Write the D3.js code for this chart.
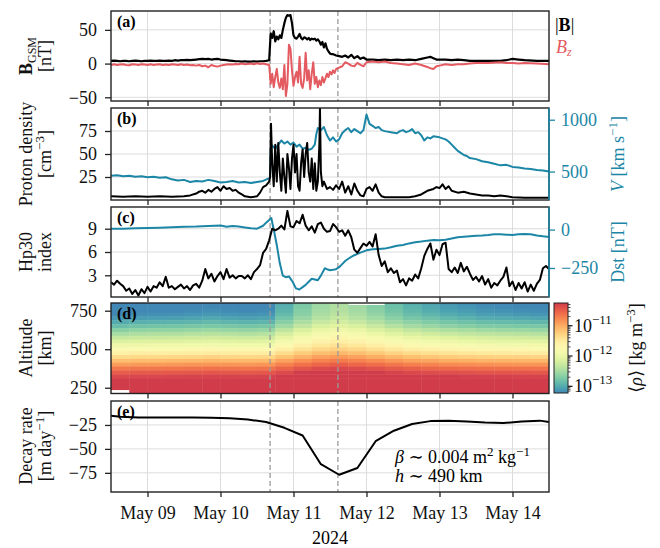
<!DOCTYPE html>
<html>
<head>
<meta charset="utf-8">
<script src="https://cdn.jsdelivr.net/npm/d3@7"></script>
<style>
  body { margin: 0; background: #fff; }
  svg text { font-family: "Liberation Serif", "DejaVu Serif", serif; }
</style>
</head>
<body>
<svg id="chart" width="660" height="548"></svg>
<script>
// hours counted from 2024-05-08 12:00 UT
var eventHours = [52.3, 74.6];

// (a) IMF
var bHours = [0,1,2,3,4,5,6,7,8,9,10,11,12,13,14,15,16,17,18,19,20,21,22,23,24,25,26,27,28,29,30,31,32,33,34,35,36,37,38,39,40,41,42,43,44,45,46,47,48,49,50,51,52,
  52.5,53,53.5,54,54.5,55,55.5,56,56.5,57,57.5,58,58.5,59,59.5,60,60.5,61,61.5,62,62.5,63,63.5,64,64.5,65,65.5,66,66.5,67,67.5,68,68.5,69,69.5,70,70.5,71,71.5,72,72.5,73,73.5,74,
  75,76,77,78,79,80,81,82,83,84,86,88,90,92,94,96,98,100,102,104,105,106,107,108,110,112,114,116,118,120,124,128,130,131,132,134,136,140,144];
var bMag = [4,4.5,4,3.5,4,4,3.5,4,4.5,4,3.5,4,4,4.5,4,4,4.5,4,4,4.5,4,5,4.5,5,5,5.5,5,5.5,6,6.5,7,6.5,7,6,6.5,7,6,5.5,5,4.5,4,3.5,3.5,3,3.5,3,3,3.5,3,3.5,3.5,4,5,
  45,38,48,33,40,36,42,38,50,60,68,72,71,72,60,42,38,37,40,44,38,36,39,38,36,38,35,37,36,37,34,36,33,28,32,24,30,22,18,15,14,14,13,12,
  11,10,12,9,13,8,11,7,9,6,6,5,6,5,6,5,6,5,7,9,10,8,6,6,6,5,6,5,4,4,4,4,5,6,7,6,5,4,4];
var bz = [-2,-1,-2,-1.5,-1,-2,-2.5,-1,-1.5,-2,-1,-1.5,-2,-1,-2,-1.5,-1,-2,-1.5,-2,-1,-1.5,-2,-1,-2,-1.5,-2.5,-2,-3,-2,-4,-3,-5.5,-2,-3.5,-4.5,-3,-2,-1.5,-1,-1.5,-0.5,-1,0,-1,-0.5,0,-1,0.5,-0.5,0,-1,-2,
  -30,-15,-35,-20,-8,-28,-36,-22,-38,-2,-48,-30,28,22,-10,-33,-20,-12,-28,10,-30,-36,-22,16,-25,-10,-38,-15,2,-30,-20,-35,-25,-32,-20,-28,-22,-15,-20,-12,-16,-10,-14,-8,
  -6,-4,2,0,-3,-4,1,-2,-4,2,3,2,3,1,0,-1,-2,0,-2,-5,-7,-8,-4,-3,-1,-2,-1,-1,0,1,1,2,1,1,1,0,1,0,-1];

// (b) solar wind
var vHours = [0,2,4,6,8,10,12,14,16,18,20,22,24,26,28,30,32,34,36,38,40,42,44,46,48,50,51.5,52.3,52.5,53,
  54,55,56,57,58,59,60,61,62,63,64,65,66,67,67.5,68,69,70,71,72,73,74,75,76,77,78,79,80,81,82,83,84,85,86,87,88,89,90,
  92,94,95,96,97,98,99,100,101,102,103,104,105,106,108,110,111,112,113,114,115,116,117,118,120,122,124,126,128,130,132,134,136,138,140,142,144];
var speed = [460,465,455,460,450,455,445,450,440,445,425,415,420,400,410,405,420,410,395,400,410,395,400,390,400,410,430,440,730,750,
  720,760,800,770,790,760,780,740,760,720,730,710,720,760,860,920,900,930,850,800,830,790,810,870,900,920,880,910,890,870,900,1050,960,940,920,930,900,890,
  880,870,890,900,880,890,910,870,880,850,800,830,820,840,830,810,790,760,730,700,680,660,650,630,620,600,590,575,560,565,545,540,530,525,515,510,500];
var nHours = [0,4,8,12,16,20,24,26,28,29,30,31,32,33,34,35,36,37,38,39,40,41,42,43,44,46,48,49,50,51,52,52.3,52.6,
  53,53.5,54,54.5,55,55.5,56,56.5,57,57.5,58,58.5,59,59.5,60,60.5,61,61.5,62,62.5,63,63.5,64,64.5,65,65.5,66,66.5,67,67.5,68,68.5,68.7,69,69.5,70,
  71,72,73,74,75,76,77,78,79,80,81,82,83,84,85,86,87,88,89,90,94,98,100,102,104,106,107,108,109,110,111,112,114,116,118,120,122,124,126,128,130,132,136,140,144];
var density = [4,3.5,4,3.5,4,3.5,4,5,7,9,10,8,11,9,12,14,10,15,12,13,10,11,8,6,4,3,4,8,14,16,20,25,83,
  40,15,60,20,62,30,10,45,25,8,50,35,12,45,60,30,50,15,10,40,55,25,50,62,30,20,45,12,40,10,20,60,100,30,15,20,
  12,14,11,16,12,20,8,15,6,18,10,5,4,12,14,10,17,8,4,3,3,3,4,6,10,12,14,13,17,12,15,10,8,9,7,6,5,5,4,5,4,3,2.5,2.5,2.5];

// (c) geomagnetic indices, Hp30 one value per hour from hour 0
var hp30 = [2.1,1.8,2.3,1.9,1.6,1.0,1.3,0.6,1.1,0.4,1.2,0.7,1.5,0.9,1.6,1.4,2.1,1.6,2.8,1.4,1.6,1.2,1.5,1.8,1.3,1.6,1.1,1.7,1.9,1.4,
  2.3,3.8,2.6,3.2,2.2,2.9,3.4,2.5,3.8,2.7,3.0,2.6,2.9,2.9,2.6,3.0,2.5,3.4,3.8,4.3,5.9,6.4,
  7.5,9.0,8.8,9.0,9.4,8.9,11.3,9.3,9.2,10.0,9.7,10.8,9.4,8.8,9.3,8.5,9.6,9.8,9.0,8.6,
  8.7,9.6,9.2,8.6,8.8,8.1,8.8,7.9,6.3,5.9,6.5,7.1,6.8,7.3,6.7,8.3,5.6,4.2,4.8,3.4,3.9,3.3,3.6,2.1,2.5,1.7,2.6,2.3,3.1,2.6,
  3.9,5.5,6.4,7.1,5.0,6.3,5.6,7.0,7.2,3.8,3.4,4.0,3.3,4.6,3.5,4.1,3.2,2.4,2.8,2.2,2.9,1.8,2.5,1.4,2.0,1.7,2.3,2.8,4.0,1.6,
  2.2,1.1,2.0,1.3,2.1,0.9,1.8,1.0,1.9,2.4,3.9,4.2,3.8];
var dstHours = [0,4,8,12,16,20,24,28,32,36,38,40,42,44,46,48,50,51,52,52.7,53.5,54.5,55.5,56.5,57.5,58.5,59.7,60.8,61.9,
  63,64,65,66,67,68,69,70.3,71,72,73,74,75,76,77,78,79,80,
  82,84,86,88,90,92,94,96,98,100,102,104,106,108,110,112,114,116,118,120,122,124,126,128,130,132,134,136,138,140,142,144];
var dst = [5,6,8,10,12,15,18,20,24,26,18,24,20,14,8,6,25,45,62,75,0,-100,-220,-300,-310,-305,-340,-383,-390,
  -375,-360,-340,-320,-325,-330,-300,-252,-258,-265,-262,-258,-245,-225,-205,-190,-178,-167,
  -150,-135,-128,-126,-124,-115,-105,-100,-90,-82,-78,-72,-68,-70,-66,-58,-50,-46,-43,-40,-38,-35,-30,-30,-33,-35,-30,-28,-30,-38,-44,-48];

// (d) log10 of orbit-averaged density, 6-hour bins, altitudes top to bottom
var altitudes = [800,775,750,725,700,675,650,625,600,575,550,525,500,475,450,425,400,375,350,325,300,275,250,225];
var logRho = [
  [-13.40,-13.35,-13.30,-13.22,-13.12,-12.99,-12.84,-12.66,-12.49,-12.31,-12.15,-11.98,-11.79,-11.58,-11.35,-11.12,-10.90,-10.68,-10.49,-10.34,-10.21,-10.09,-9.96,null],
  [-13.35,-13.30,-13.25,-13.18,-13.08,-12.95,-12.80,-12.62,-12.45,-12.28,-12.12,-11.95,-11.76,-11.55,-11.33,-11.10,-10.88,-10.66,-10.47,-10.32,-10.20,-10.08,-9.95,-9.85],
  [-13.34,-13.29,-13.24,-13.17,-13.07,-12.94,-12.79,-12.61,-12.44,-12.28,-12.11,-11.94,-11.76,-11.55,-11.33,-11.10,-10.88,-10.66,-10.47,-10.32,-10.20,-10.08,-9.95,-9.85],
  [-13.33,-13.28,-13.23,-13.16,-13.06,-12.93,-12.78,-12.61,-12.44,-12.27,-12.11,-11.94,-11.75,-11.54,-11.32,-11.09,-10.87,-10.65,-10.46,-10.31,-10.19,-10.08,-9.95,-9.85],
  [-13.30,-13.25,-13.20,-13.14,-13.04,-12.91,-12.76,-12.58,-12.41,-12.25,-12.09,-11.92,-11.73,-11.52,-11.31,-11.08,-10.86,-10.64,-10.45,-10.30,-10.19,-10.07,-9.94,-9.84],
  [-13.27,-13.22,-13.18,-13.11,-13.01,-12.88,-12.74,-12.56,-12.39,-12.23,-12.07,-11.90,-11.71,-11.51,-11.29,-11.06,-10.85,-10.63,-10.44,-10.30,-10.18,-10.06,-9.93,-9.83],
  [-13.30,-13.25,-13.20,-13.14,-13.04,-12.91,-12.76,-12.58,-12.41,-12.25,-12.09,-11.92,-11.73,-11.52,-11.31,-11.08,-10.86,-10.64,-10.45,-10.30,-10.19,-10.07,-9.94,-9.84],
  [-13.32,-13.27,-13.22,-13.15,-13.05,-12.93,-12.78,-12.60,-12.43,-12.26,-12.10,-11.93,-11.74,-11.53,-11.32,-11.09,-10.87,-10.65,-10.46,-10.31,-10.19,-10.07,-9.94,-9.84],
  [-13.30,-13.25,-13.20,-13.14,-13.04,-12.91,-12.76,-12.58,-12.41,-12.25,-12.09,-11.92,-11.73,-11.52,-11.31,-11.08,-10.86,-10.64,-10.45,-10.30,-10.19,-10.07,-9.94,-9.84],
  [-13.00,-12.96,-12.93,-12.87,-12.78,-12.66,-12.53,-12.36,-12.20,-12.04,-11.90,-11.74,-11.56,-11.37,-11.16,-10.94,-10.73,-10.53,-10.35,-10.21,-10.10,-10.00,-9.88,-9.80],
  [-12.75,-12.72,-12.69,-12.65,-12.57,-12.46,-12.33,-12.17,-12.02,-11.88,-11.74,-11.59,-11.42,-11.23,-11.04,-10.83,-10.63,-10.43,-10.26,-10.13,-10.04,-9.94,-9.83,-9.74],
  [-12.55,-12.53,-12.51,-12.47,-12.40,-12.30,-12.17,-12.02,-11.88,-11.74,-11.61,-11.47,-11.31,-11.13,-10.94,-10.74,-10.55,-10.35,-10.19,-10.07,-9.98,-9.89,-9.79,-9.70],
  [-12.45,-12.43,-12.42,-12.38,-12.31,-12.21,-12.10,-11.95,-11.81,-11.67,-11.55,-11.41,-11.25,-11.08,-10.89,-10.69,-10.50,-10.32,-10.16,-10.04,-9.95,-9.87,-9.77,-9.68],
  [null,-12.53,-12.51,-12.47,-12.40,-12.30,-12.17,-12.02,-11.88,-11.74,-11.61,-11.47,-11.31,-11.13,-10.94,-10.74,-10.55,-10.35,-10.19,-10.07,-9.98,-9.89,-9.79,-9.70],
  [null,-12.67,-12.65,-12.60,-12.52,-12.42,-12.29,-12.14,-11.99,-11.84,-11.71,-11.56,-11.39,-11.21,-11.01,-10.80,-10.61,-10.41,-10.25,-10.12,-10.02,-9.93,-9.82,-9.74],
  [-12.85,-12.82,-12.79,-12.73,-12.65,-12.54,-12.41,-12.25,-12.10,-11.94,-11.80,-11.65,-11.48,-11.29,-11.08,-10.87,-10.67,-10.47,-10.30,-10.17,-10.06,-9.96,-9.85,-9.77],
  [-12.97,-12.93,-12.90,-12.84,-12.76,-12.64,-12.50,-12.34,-12.18,-12.02,-11.88,-11.72,-11.55,-11.35,-11.14,-10.93,-10.72,-10.51,-10.34,-10.20,-10.10,-9.99,-9.87,-9.79],
  [-13.05,-13.01,-12.97,-12.91,-12.82,-12.70,-12.57,-12.40,-12.24,-12.08,-11.93,-11.77,-11.59,-11.39,-11.18,-10.96,-10.75,-10.55,-10.37,-10.23,-10.12,-10.01,-9.89,-9.80],
  [-13.13,-13.09,-13.05,-12.98,-12.89,-12.77,-12.63,-12.46,-12.29,-12.13,-11.98,-11.82,-11.64,-11.43,-11.22,-11.00,-10.79,-10.58,-10.39,-10.25,-10.14,-10.03,-9.91,-9.82],
  [-13.18,-13.14,-13.09,-13.03,-12.93,-12.81,-12.67,-12.49,-12.33,-12.17,-12.01,-11.85,-11.66,-11.46,-11.25,-11.02,-10.81,-10.60,-10.41,-10.27,-10.15,-10.04,-9.92,-9.83],
  [-13.23,-13.18,-13.14,-13.07,-12.98,-12.85,-12.71,-12.53,-12.36,-12.20,-12.04,-11.88,-11.69,-11.49,-11.27,-11.05,-10.83,-10.61,-10.43,-10.28,-10.17,-10.05,-9.93,-9.83],
  [-13.25,-13.20,-13.16,-13.09,-12.99,-12.87,-12.72,-12.55,-12.38,-12.21,-12.06,-11.89,-11.70,-11.50,-11.28,-11.05,-10.84,-10.62,-10.44,-10.29,-10.17,-10.06,-9.93,-9.83],
  [-13.27,-13.22,-13.18,-13.11,-13.01,-12.88,-12.74,-12.56,-12.39,-12.23,-12.07,-11.90,-11.71,-11.51,-11.29,-11.06,-10.85,-10.63,-10.44,-10.30,-10.18,-10.06,-9.93,-9.83],
  [-13.29,-13.24,-13.19,-13.13,-13.03,-12.90,-12.75,-12.58,-12.41,-12.24,-12.08,-11.91,-11.73,-11.52,-11.30,-11.07,-10.85,-10.64,-10.45,-10.30,-10.18,-10.07,-9.94,-9.84]
];

// (e) orbital decay rate, m/day
var decayHours = [0,3,9,15,21,27,33,39,45,51,57,63,69,75,81,87,93,99,105,111,117,123,129,135,141,144];
var decayRate = [-15.5,-16.5,-17.3,-17.2,-17.1,-17.3,-17.6,-18,-19.3,-22,-28,-36,-66,-77,-70,-42,-31,-24,-21,-20.5,-21.5,-22.5,-23,-21.5,-20.5,-22];

// tick values
var bTicks = [-50, 0, 50];
var nTicks = [25, 50, 75];
var vTicks = [500, 1000];
var hpTicks = [3, 6, 9];
var dstTicks = [-250, 0];
var altTicks = [250, 500, 750];
var decayTicks = [-75, -50, -25];
var cbTicks = [-13, -12, -11];

var TEAL = "#1c86a6", RED = "#e35a60", GRID = "#dcdcdc", FRAME = "#222";
var X0 = 111, X1 = 549;
var T0 = Date.UTC(2024, 4, 8, 12);
function hrs(h) { return new Date(T0 + h * 3600e3); }
var fmtInt = d3.format("d");

var svg = d3.select("#chart");
var x = d3.scaleUtc().domain([hrs(0), hrs(144)]).range([X0, X1]);
var days = x.ticks(d3.utcDay.every(1));

function makePanel(id, top, bottom, yTickVals, y, grid) {
  var g = svg.append("g");
  g.append("clipPath").attr("id", "clip-" + id)
    .append("rect").attr("x", X0).attr("y", top).attr("width", X1 - X0).attr("height", bottom - top);
  if (grid) {
    g.append("g").selectAll("line").data(days).join("line")
      .attr("x1", d => x(d)).attr("x2", d => x(d)).attr("y1", top).attr("y2", bottom)
      .attr("stroke", GRID).attr("stroke-width", 1);
    g.append("g").selectAll("line").data(yTickVals).join("line")
      .attr("x1", X0).attr("x2", X1).attr("y1", d => y(d)).attr("y2", d => y(d))
      .attr("stroke", GRID).attr("stroke-width", 1);
  }
  var body = g.append("g").attr("clip-path", "url(#clip-" + id + ")");
  return { id: id, g: g, body: body, top: top, bottom: bottom };
}

function eventLines(p) {
  p.body.append("g").selectAll("line").data(eventHours).join("line")
    .attr("x1", d => x(hrs(d))).attr("x2", d => x(hrs(d)))
    .attr("y1", p.top).attr("y2", p.bottom)
    .attr("stroke", "#9a9a9a").attr("stroke-width", 1.3).attr("stroke-dasharray", "5,3");
}

function drawLine(p, hours, values, y, color, width) {
  var line = d3.line().x(d => x(hrs(d[0]))).y(d => y(d[1]));
  p.body.append("path").datum(d3.zip(hours, values))
    .attr("d", line).attr("fill", "none").attr("stroke", color)
    .attr("stroke-width", width || 2).attr("stroke-linejoin", "round");
}

function finishPanel(p, y, yTickVals, letter, showDates) {
  var xa = p.g.append("g").attr("transform", "translate(0," + p.bottom + ")")
    .call(d3.axisBottom(x).ticks(d3.utcDay.every(1)).tickSize(5).tickPadding(9)
      .tickFormat(showDates ? d3.utcFormat("%b %d") : ""));
  var ya = p.g.append("g").attr("transform", "translate(" + X0 + ",0)")
    .call(d3.axisLeft(y).tickValues(yTickVals).tickSize(6).tickPadding(8).tickFormat(fmtInt));
  [xa, ya].forEach(function (a) {
    a.select(".domain").remove();
    a.selectAll("line").attr("stroke", FRAME).attr("stroke-width", 1.3);
    a.selectAll("text").attr("font-size", 18).attr("fill", "#111")
      .attr("font-family", "Liberation Serif, DejaVu Serif, serif");
  });
  p.g.append("rect").attr("x", X0).attr("y", p.top).attr("width", X1 - X0).attr("height", p.bottom - p.top)
    .attr("fill", "none").attr("stroke", FRAME).attr("stroke-width", 1.4);
  p.g.append("text").attr("x", X0 + 6).attr("y", p.top + 16)
    .attr("font-size", 16).attr("font-weight", "bold").text("(" + letter + ")");
}

function rightAxis(p, y, tickVals) {
  var ra = p.g.append("g").attr("transform", "translate(" + X1 + ",0)")
    .call(d3.axisRight(y).tickValues(tickVals).tickSize(6).tickPadding(6).tickFormat(fmtInt));
  ra.select(".domain").remove();
  ra.selectAll("line").attr("stroke", TEAL).attr("stroke-width", 1.3);
  ra.selectAll("text").attr("font-size", 18).attr("fill", TEAL)
    .attr("font-family", "Liberation Serif, DejaVu Serif, serif");
  p.g.append("line").attr("x1", X1).attr("x2", X1).attr("y1", p.top).attr("y2", p.bottom)
    .attr("stroke", TEAL).attr("stroke-width", 1.6);
}

function rotLabel(xb, cy, html, color) {
  svg.append("text").attr("transform", "translate(" + xb + "," + cy + ") rotate(-90)")
    .attr("text-anchor", "middle").attr("font-size", 18).attr("fill", color || "#111").html(html);
}
function sup(s) { return '<tspan dy="-7" font-size="13">' + s + '</tspan><tspan dy="7">'; }

// ---- (a)
var yB = d3.scaleLinear().domain([-55.5, 78]).range([101, 11]);
var pa = makePanel("a", 11, 101, bTicks, yB, true);
eventLines(pa);
drawLine(pa, bHours, bMag, yB, "#000", 2.2);
drawLine(pa, bHours, bz, yB, RED, 2);
finishPanel(pa, yB, bTicks, "a", false);
// legend, placed right of the panel
svg.append("text").attr("x", 555).attr("y", 31).attr("font-size", 18)
  .html('|<tspan font-weight="bold">B</tspan>|');
svg.append("text").attr("x", 556).attr("y", 53).attr("font-size", 18).attr("fill", RED)
  .html('<tspan font-style="italic">B</tspan><tspan dy="3" font-size="12" font-style="italic">z</tspan>');

// ---- (b)
var yN = d3.scaleLinear().domain([0, 100]).range([200, 108]);
var yV = d3.scaleLinear().domain([226, 1113]).range([200, 108]);
var pb = makePanel("b", 108, 200, nTicks, yN, true);
eventLines(pb);
drawLine(pb, vHours, speed, yV, TEAL, 2);
drawLine(pb, nHours, density, yN, "#000", 2);
finishPanel(pb, yN, nTicks, "b", false);
rightAxis(pb, yV, vTicks);

// ---- (c)
var yHp = d3.scaleLinear().domain([0.2, 11.8]).range([297, 207]);
var yDst = d3.scaleLinear().domain([-439, 147]).range([297, 207]);
var pc = makePanel("c", 207, 297, hpTicks, yHp, true);
eventLines(pc);
drawLine(pc, dstHours, dst, yDst, TEAL, 2);
drawLine(pc, d3.range(hp30.length), hp30, yHp, "#000", 2);
finishPanel(pc, yHp, hpTicks, "c", false);
rightAxis(pc, yDst, dstTicks);

// ---- (d)
var cbDomain = [-13.22, -10.25];
function rhoColor(v) {
  var f = Math.max(0, Math.min(1, (v - cbDomain[0]) / (cbDomain[1] - cbDomain[0])));
  return d3.interpolateSpectral(0.9 - 0.8 * f);
}
var yAlt = d3.scaleLinear().domain([212.5, 800]).range([393.5, 303]);
var pd = makePanel("d", 303, 393.5, altTicks, yAlt, false);
var cells = [];
logRho.forEach(function (col, i) {
  col.forEach(function (v, j) { if (v !== null) cells.push({ i: i, alt: altitudes[j], v: v }); });
});
pd.body.append("g").selectAll("rect").data(cells).join("rect")
  .attr("x", d => x(hrs(d.i * 6)))
  .attr("width", d => x(hrs(d.i * 6 + 6)) - x(hrs(d.i * 6)) + 0.4)
  .attr("y", d => yAlt(d.alt + 12.5))
  .attr("height", d => yAlt(d.alt - 12.5) - yAlt(d.alt + 12.5) + 0.4)
  .attr("fill", d => rhoColor(d.v));
eventLines(pd);
finishPanel(pd, yAlt, altTicks, "d", false);

// colorbar
var cbX = 554, cbW = 14, cbTop = 303, cbBot = 393;
var yCb = d3.scaleLinear().domain(cbDomain).range([cbBot, cbTop]);
var grad = svg.append("defs").append("linearGradient").attr("id", "cbgrad")
  .attr("x1", 0).attr("y1", 1).attr("x2", 0).attr("y2", 0);
grad.selectAll("stop").data(d3.range(0, 1.0001, 0.05)).join("stop")
  .attr("offset", d => d).attr("stop-color", d => d3.interpolateSpectral(0.9 - 0.8 * d));
svg.append("rect").attr("x", cbX).attr("y", cbTop).attr("width", cbW).attr("height", cbBot - cbTop)
  .attr("fill", "url(#cbgrad)").attr("stroke", FRAME).attr("stroke-width", 1);
var minor = [];
[-14, -13, -12, -11].forEach(function (n) {
  [2, 3, 4, 5, 6, 7, 8, 9].forEach(function (k) {
    var v = n + Math.log10(k);
    if (v > cbDomain[0] && v < cbDomain[1]) minor.push(v);
  });
});
svg.append("g").selectAll("line").data(minor).join("line")
  .attr("x1", cbX + cbW).attr("x2", cbX + cbW + 2.5).attr("y1", d => yCb(d)).attr("y2", d => yCb(d))
  .attr("stroke", FRAME).attr("stroke-width", 0.8);
svg.append("g").selectAll("line").data(cbTicks).join("line")
  .attr("x1", cbX + cbW).attr("x2", cbX + cbW + 4.5).attr("y1", d => yCb(d)).attr("y2", d => yCb(d))
  .attr("stroke", FRAME).attr("stroke-width", 1.3);
svg.append("g").selectAll("text").data(cbTicks).join("text")
  .attr("x", cbX + cbW + 6).attr("y", d => yCb(d) + 6).attr("font-size", 18).attr("fill", "#111")
  .html(d => '10<tspan dy="-8" font-size="13">\u2212' + Math.abs(d) + '</tspan>');

// ---- (e)
var yDec = d3.scaleLinear().domain([-95, 0]).range([492, 401]);
var pe = makePanel("e", 401, 492, decayTicks, yDec, true);
eventLines(pe);
drawLine(pe, decayHours, decayRate, yDec, "#000", 2);
finishPanel(pe, yDec, decayTicks, "e", true);
svg.append("text").attr("x", 395).attr("y", 463).attr("font-size", 18)
  .html('<tspan font-style="italic">\u03b2</tspan> \u223c 0.004 m' + sup("2") + ' kg</tspan>' +
        '<tspan dy="-7" font-size="13">\u22121</tspan>');
svg.append("text").attr("x", 395).attr("y", 482).attr("font-size", 18)
  .html('<tspan font-style="italic">h</tspan> \u223c 490 km');
svg.append("text").attr("x", (X0 + X1) / 2).attr("y", 544).attr("text-anchor", "middle")
  .attr("font-size", 18).text("2024");

// ---- axis titles
rotLabel(32, 56, '<tspan font-weight="bold">B</tspan><tspan dy="4" font-size="12">GSM</tspan>');
rotLabel(51, 56, '[nT]');
rotLabel(32, 154, 'Proton density');
rotLabel(51, 154, '[cm' + sup("\u22123") + ']</tspan>');
rotLabel(32, 252, 'Hp30');
rotLabel(51, 252, 'index');
rotLabel(32, 348, 'Altitude');
rotLabel(51, 348, '[km]');
rotLabel(32, 446, 'Decay rate');
rotLabel(51, 446, '[m day' + sup("\u22121") + ']</tspan>');
rotLabel(624, 154, '<tspan font-style="italic">V</tspan> [km s' + sup("\u22121") + ']</tspan>', TEAL);
rotLabel(624, 252, 'Dst [nT]', TEAL);
rotLabel(642, 348, '\u27e8<tspan font-style="italic">\u03c1</tspan>\u27e9 [kg m' + sup("\u22123") + ']</tspan>');
</script>
</body>
</html>
